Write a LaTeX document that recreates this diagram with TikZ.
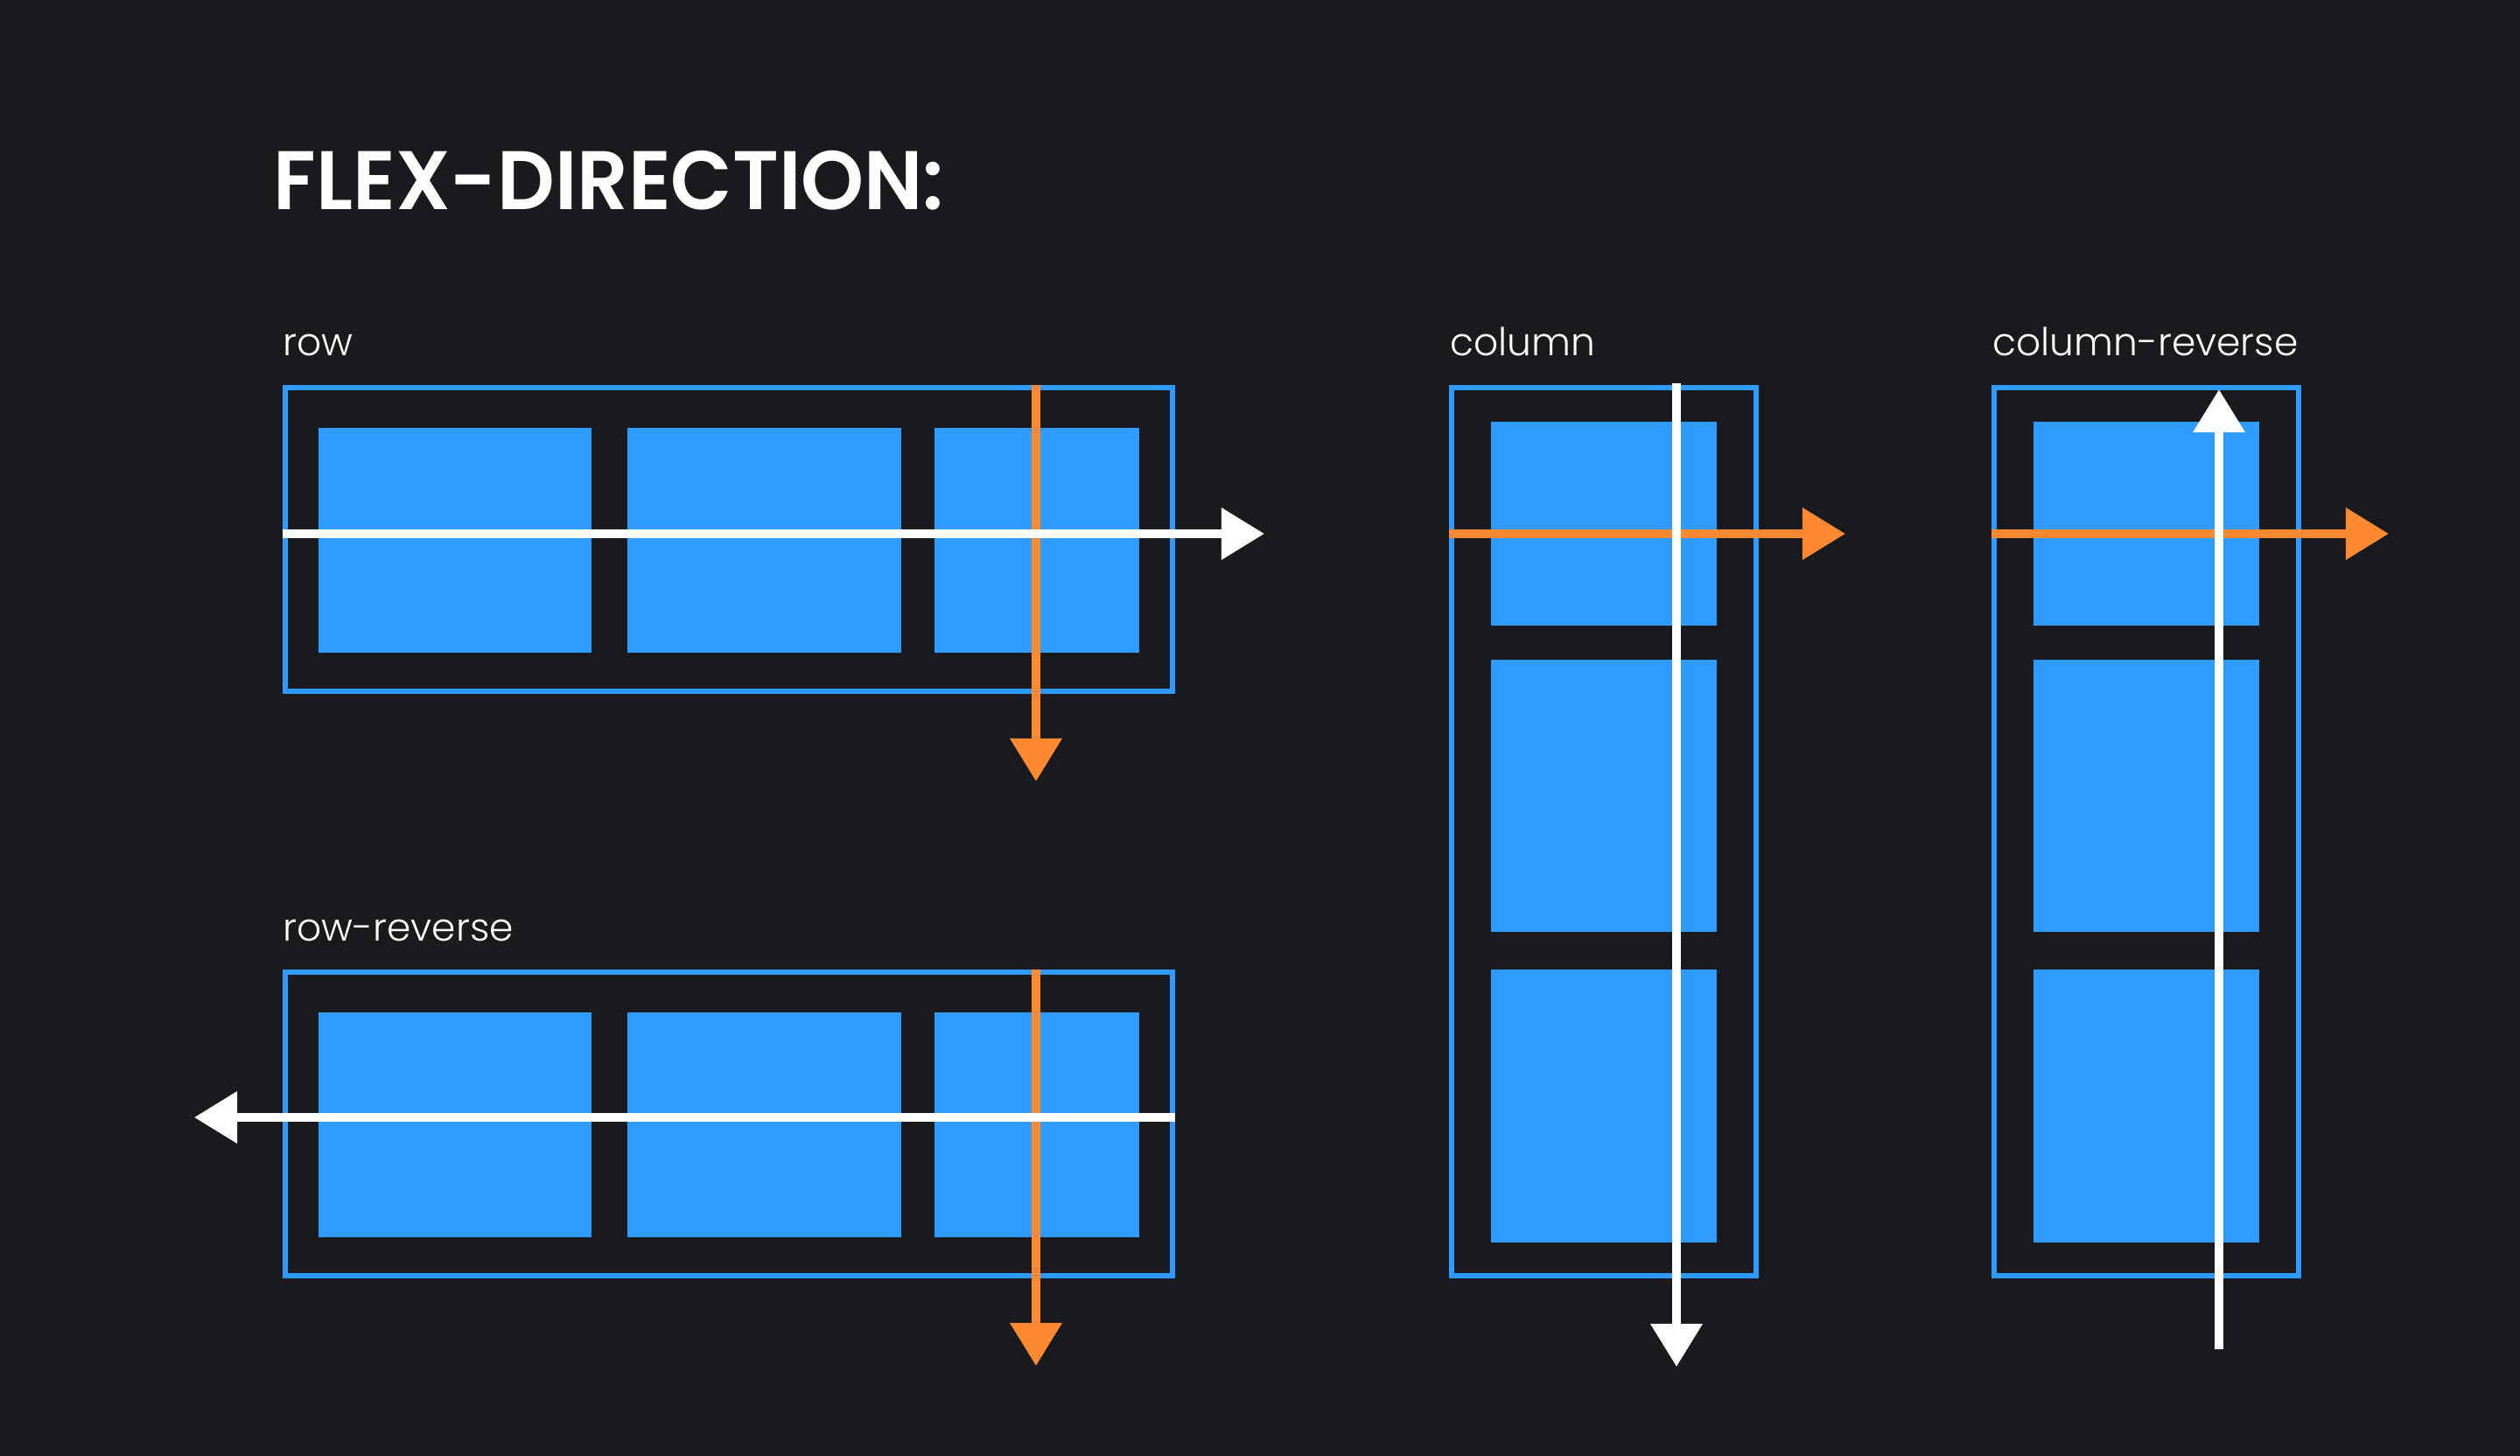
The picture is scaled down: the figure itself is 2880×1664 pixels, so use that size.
\documentclass[tikz,border=0pt]{standalone}
\usepackage{fontspec}
\usepackage{graphicx}
\setmainfont{Poppins}
\newfontfamily\titlefont{Poppins SemiBold}
\newfontfamily\labelfont{Poppins Light}
\usetikzlibrary{arrows.meta}
\definecolor{bg}{RGB}{25,26,30}
\definecolor{fblue}{RGB}{47,154,255}
\definecolor{forange}{RGB}{255,137,48}
\tikzset{
  item/.style={fill=fblue},
  container/.style={draw=fblue, line width=0.06cm},
  axis/.style={line width=0.1cm, -{Triangle[length=0.49cm,width=0.57cm]}},
  mainaxis/.style={axis, draw=white, fill=white},
  crossaxis/.style={axis, draw=forange, fill=forange},
  lbl/.style={anchor=base west, inner sep=0pt, text=white, font=\labelfont\fontsize{12.5pt}{15pt}\selectfont},
}
\begin{document}
\begin{tikzpicture}[x=0.01cm, y=-0.01cm]
\fill[bg] (0,0) rectangle (2880,1664);
\useasboundingbox (0,0) rectangle (2880,1664);

\node[anchor=base west, inner sep=0pt, text=white, font=\titlefont\fontsize{27pt}{32pt}\selectfont] (title) at (312,240) {\scalebox{0.965}[1]{FLEX-DIRECTION:}};

% labels
\node[lbl] (lrow) at (323,407) {row};
\node[lbl] (lrowrev) at (323,1076) {row-reverse};
\node[lbl] (lcol) at (1657,407) {column};
\node[lbl] (lcolrev) at (2277,407) {column-reverse};

% row
\fill[item] (364,489) rectangle (676,746);
\fill[item] (717,489) rectangle (1030,746);
\fill[item] (1068,489) rectangle (1302,746);
\draw[container] (326,443) rectangle (1340,790);
\coordinate (r1a) at (1184,440); \coordinate (r1b) at (1184,893);
\coordinate (r2a) at (323,610);  \coordinate (r2b) at (1445,610);
\draw[crossaxis] (r1a) -- (r1b);
\draw[mainaxis] (r2a) -- (r2b);

% row-reverse
\fill[item] (364,1157) rectangle (676,1414);
\fill[item] (717,1157) rectangle (1030,1414);
\fill[item] (1068,1157) rectangle (1302,1414);
\draw[container] (326,1111) rectangle (1340,1458);
\coordinate (rr1a) at (1184,1108); \coordinate (rr1b) at (1184,1561);
\coordinate (rr2a) at (1343,1277); \coordinate (rr2b) at (222,1277);
\draw[crossaxis] (rr1a) -- (rr1b);
\draw[mainaxis] (rr2a) -- (rr2b);

% column
\fill[item] (1704,482) rectangle (1962,715);
\fill[item] (1704,754) rectangle (1962,1065);
\fill[item] (1704,1108) rectangle (1962,1420);
\draw[container] (1659,443) rectangle (2007,1458);
\coordinate (c1a) at (1656,610); \coordinate (c1b) at (2109,610);
\coordinate (c2a) at (1916,438); \coordinate (c2b) at (1916,1562);
\draw[crossaxis] (c1a) -- (c1b);
\draw[mainaxis] (c2a) -- (c2b);

% column-reverse
\fill[item] (2324,482) rectangle (2582,715);
\fill[item] (2324,754) rectangle (2582,1065);
\fill[item] (2324,1108) rectangle (2582,1420);
\draw[container] (2279,443) rectangle (2627,1458);
\coordinate (cr1a) at (2276,610); \coordinate (cr1b) at (2730,610);
\coordinate (cr2a) at (2536,1542); \coordinate (cr2b) at (2536,445);
\draw[crossaxis] (cr1a) -- (cr1b);
\draw[mainaxis] (cr2a) -- (cr2b);
\end{tikzpicture}
\end{document}
